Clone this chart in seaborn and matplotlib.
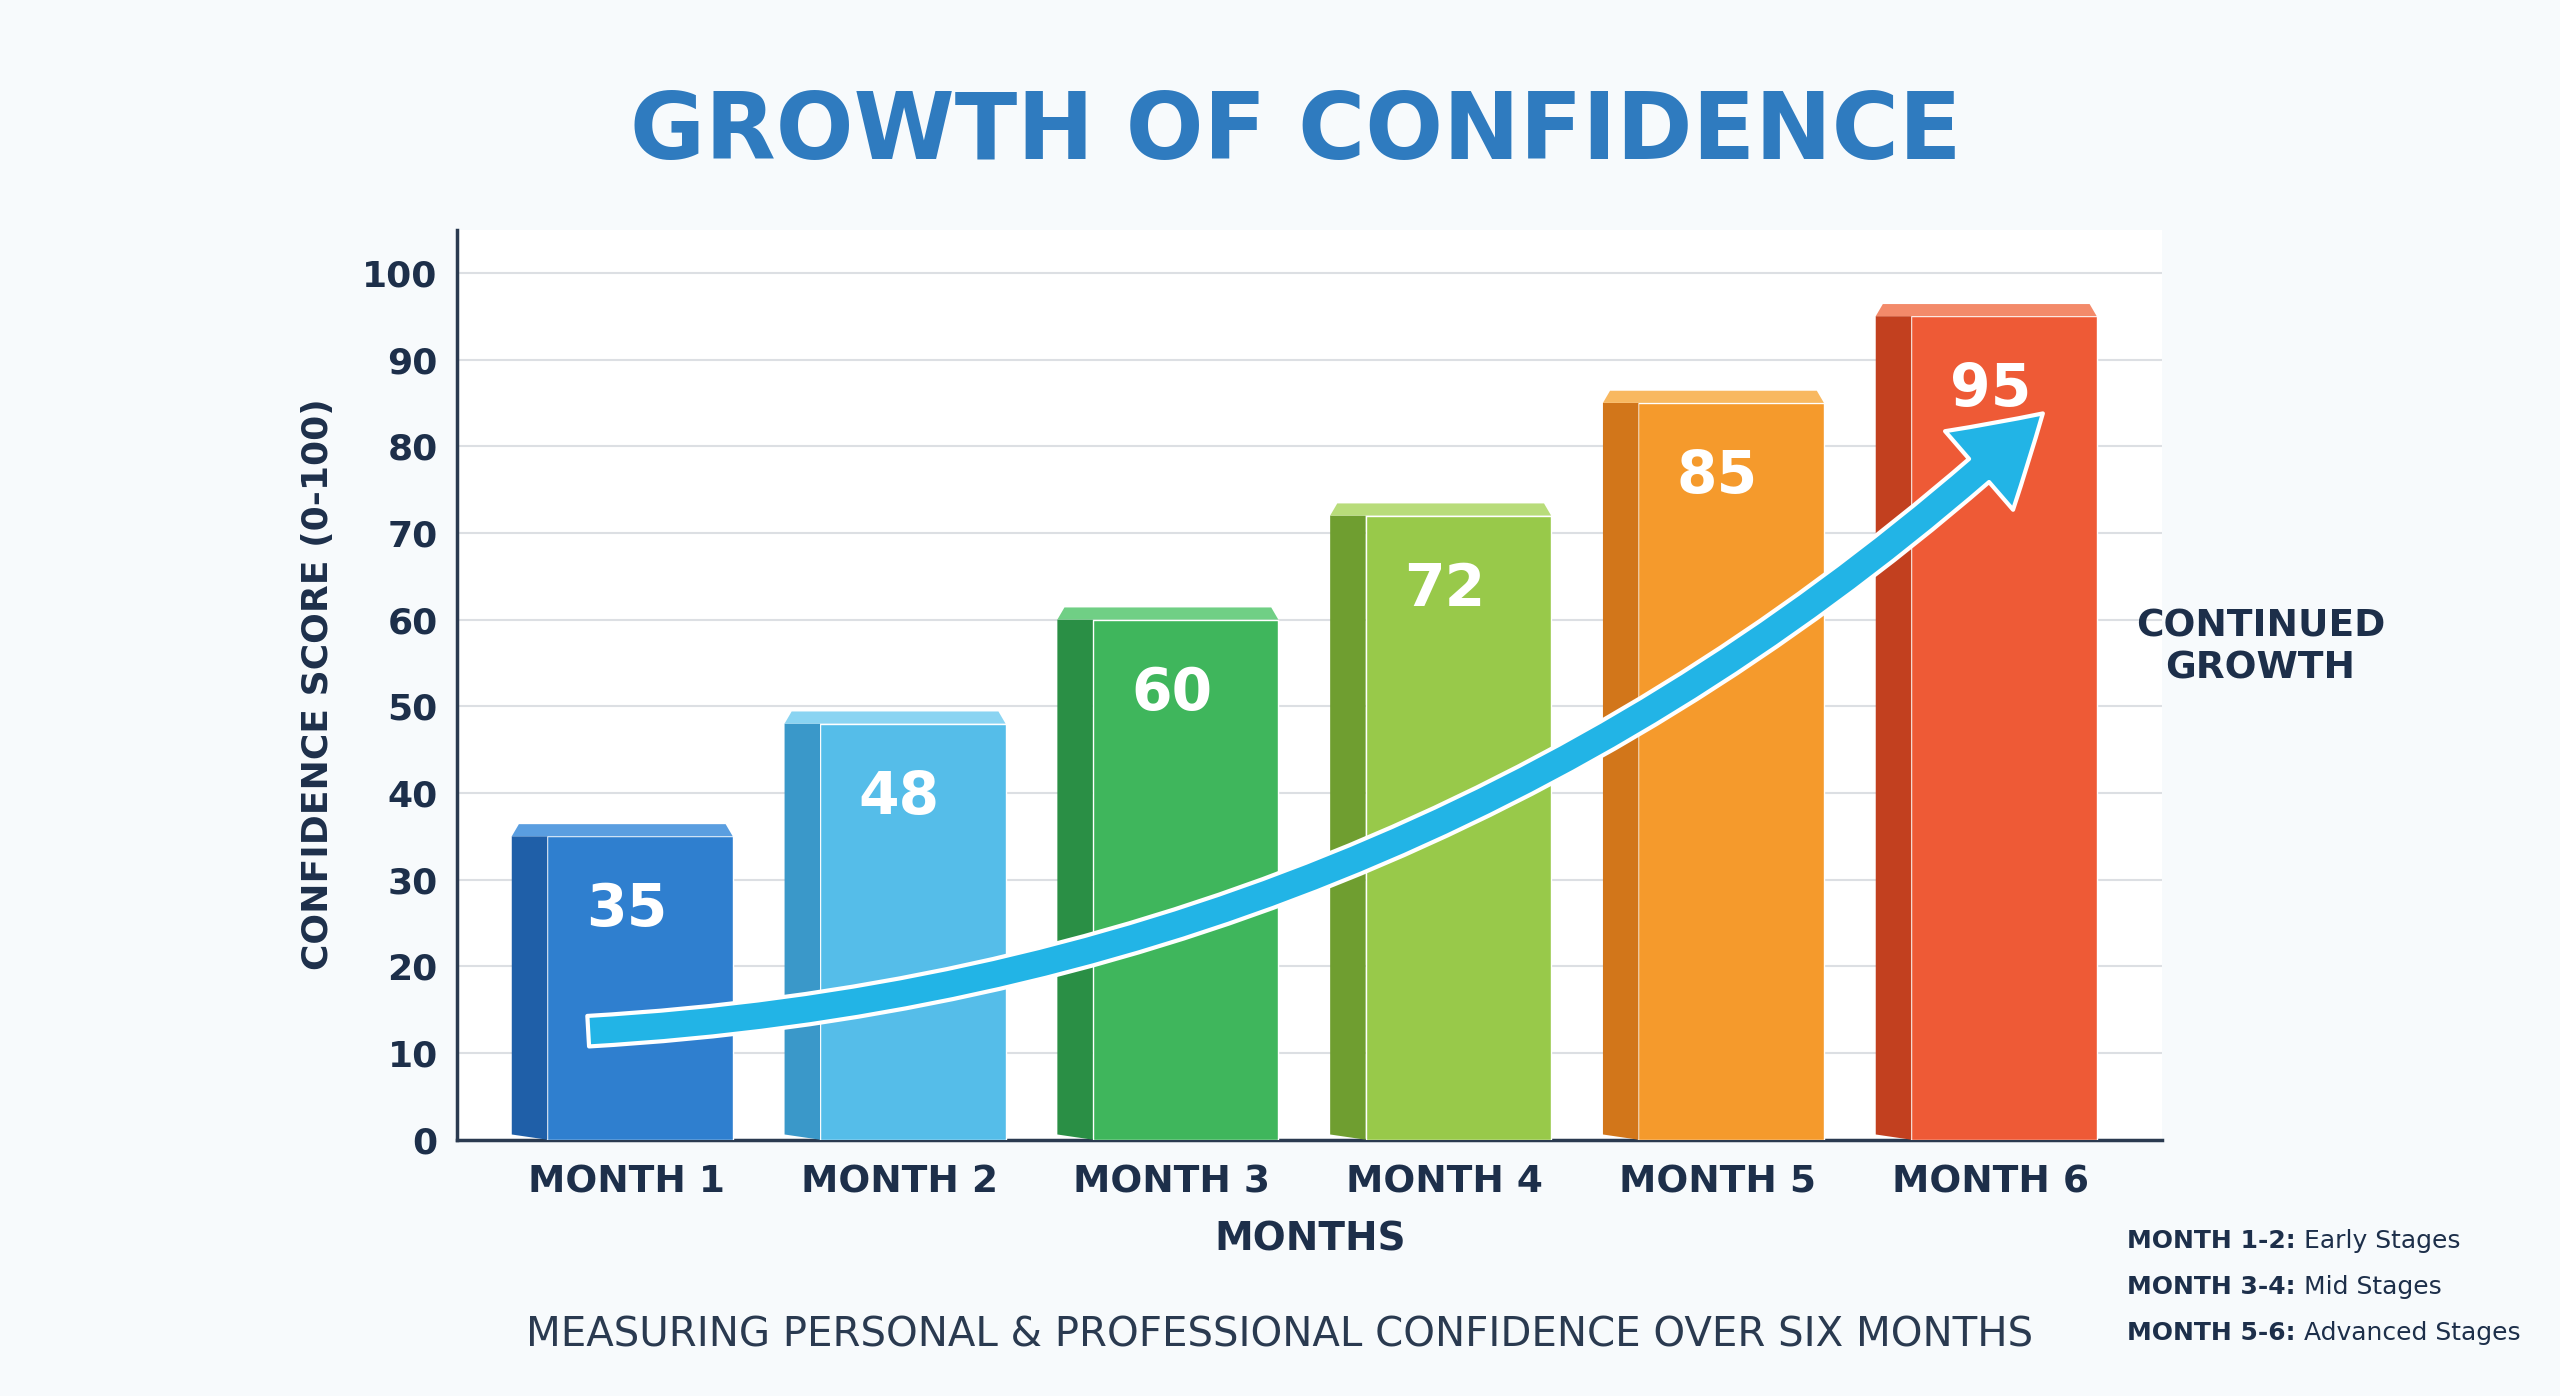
import matplotlib.pyplot as plt
import numpy as np
import pandas as pd
import seaborn as sns
from matplotlib.patches import FancyArrowPatch, Polygon

MONTHS = ["MONTH 1", "MONTH 2", "MONTH 3", "MONTH 4", "MONTH 5", "MONTH 6"]
SCORES = [35, 48, 60, 72, 85, 95]
BAR_COLORS = ["#2f7fcf", "#55bde9", "#3fb65c", "#98c94a", "#f59a2c", "#ee5a36"]
SIDE_COLORS = ["#1f5fa8", "#3a98c9", "#2a8f45", "#6f9e30", "#d2761a", "#c2401f"]
TOP_COLORS = ["#5a9ee0", "#8ad4f2", "#70cf85", "#b8dc7a", "#f8b860", "#f38a6a"]
Y_TICKS = [0, 10, 20, 30, 40, 50, 60, 70, 80, 90, 100]
LEGEND_LINES = [("MONTH 1-2:", " Early Stages"), ("MONTH 3-4:", " Mid Stages"), ("MONTH 5-6:", " Advanced Stages")]

NAVY = "#1d2f4a"

sns.set_theme(style="white")
plt.rcParams["font.family"] = ["DejaVu Sans"]

fig = plt.figure(figsize=(25.6, 13.96), dpi=100)
fig.patch.set_facecolor("#f7fafc")
ax = fig.add_axes([0.1786, 0.1836, 0.666, 0.652])
ax.set_facecolor("white")

df = pd.DataFrame({"month": MONTHS, "score": SCORES})
sns.barplot(data=df, x="month", y="score", hue="month", palette=BAR_COLORS,
            legend=False, width=0.68, ax=ax, zorder=3, saturation=1)

# fake 3D faces: darker left side and lighter top cap
depth_x, depth_y = 0.13, 1.4
for i, bar in enumerate(ax.patches):
    x0 = bar.get_x() + 0.05
    bar.set_x(x0)
    w = bar.get_width()
    h = bar.get_height()
    side = Polygon([(x0 - depth_x, 0.6), (x0, 0), (x0, h), (x0 - depth_x, h)],
                   closed=True, facecolor=SIDE_COLORS[i], edgecolor="none", zorder=3)
    top = Polygon([(x0 - depth_x, h), (x0 + w, h), (x0 + w - depth_x * 0.2, h + depth_y),
                   (x0 - depth_x * 0.8, h + depth_y)],
                  closed=True, facecolor=TOP_COLORS[i], edgecolor="none", zorder=3)
    ax.add_patch(side)
    ax.add_patch(top)
    ax.text(x0 + w / 2 - 0.05, h - 8.5, str(SCORES[i]), ha="center", va="center",
            color="white", fontsize=42, fontweight="bold", zorder=6)

# growth arrow
arrow = FancyArrowPatch((-0.15, 12.5), (5.2, 84), connectionstyle="arc3,rad=0.18",
                        arrowstyle="simple,head_width=3.4,head_length=2.8,tail_width=1.0",
                        mutation_scale=22, facecolor="#22b4e6", edgecolor="white",
                        linewidth=3, zorder=7)
ax.add_patch(arrow)

ax.set_xlim(-0.62, 5.63)
ax.set_ylim(0, 105)
ax.set_yticks(Y_TICKS)
ax.yaxis.grid(True, color="#dcdfe3", linewidth=1.5, zorder=0)
for s in ["top", "right"]:
    ax.spines[s].set_visible(False)
for s in ["left", "bottom"]:
    ax.spines[s].set_color("#2a3a50")
    ax.spines[s].set_linewidth(2.5)
ax.tick_params(axis="y", labelsize=26, colors=NAVY, length=0, pad=14)
ax.tick_params(axis="x", labelsize=27, colors=NAVY, length=0, pad=18)
for lbl in ax.get_xticklabels() + ax.get_yticklabels():
    lbl.set_fontweight("bold")
ax.set_xlabel("MONTHS", fontsize=28, fontweight="bold", color=NAVY, labelpad=14)
ax.set_ylabel("CONFIDENCE SCORE (0-100)", fontsize=26, fontweight="bold", color=NAVY, labelpad=20)

fig.text(0.506, 0.905, "GROWTH OF CONFIDENCE", ha="center", va="center",
         fontsize=66, fontweight="bold", color="#2f7bbf")
fig.text(0.5, 0.043, "MEASURING PERSONAL & PROFESSIONAL CONFIDENCE OVER SIX MONTHS",
         ha="center", va="center", fontsize=29, color="#2a3a50")
fig.text(0.883, 0.536, "CONTINUED\nGROWTH", ha="center", va="center",
         fontsize=27, fontweight="bold", color=NAVY, linespacing=1.2)

for k, (head, tail) in enumerate(LEGEND_LINES):
    y = 0.111 - k * 0.033
    t = fig.text(0.831, y, head, ha="left", va="center", fontsize=18, fontweight="bold", color=NAVY)
    fig.canvas.draw()
    bb = t.get_window_extent()
    fig.text(bb.x1 / fig.bbox.width, y, tail, ha="left", va="center", fontsize=18, color=NAVY)

fig.savefig("out.png", dpi=100, facecolor=fig.get_facecolor())
